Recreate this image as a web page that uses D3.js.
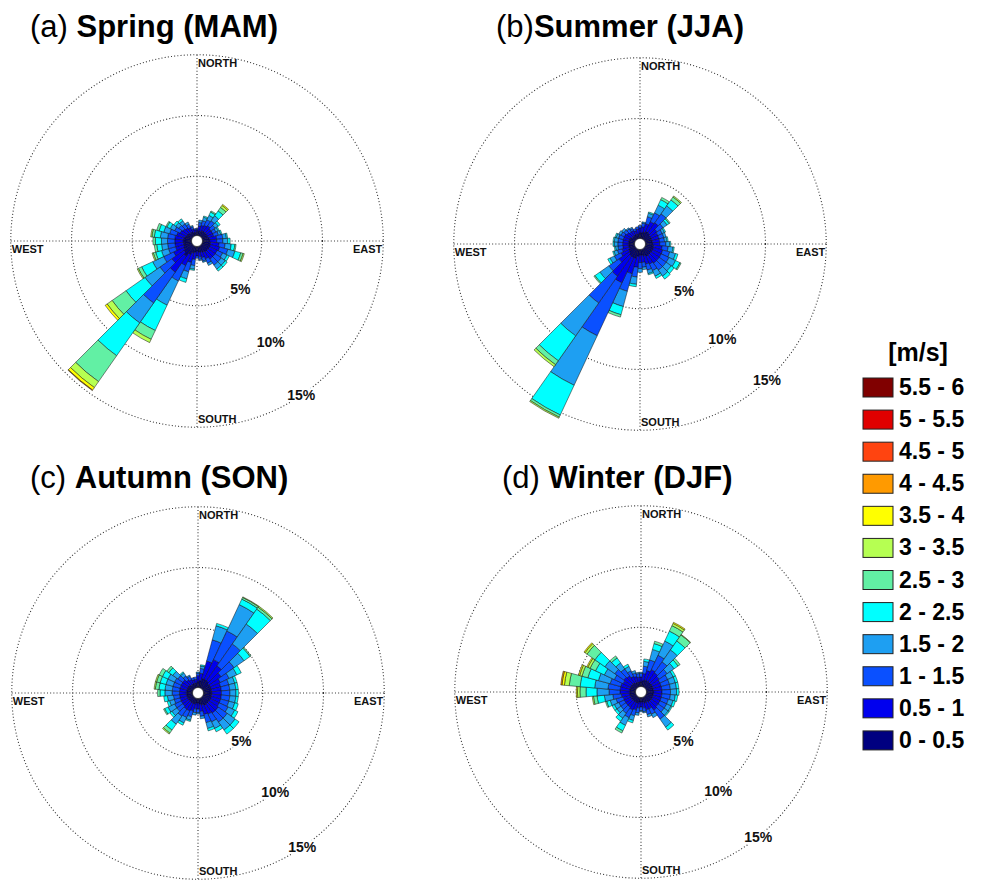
<!DOCTYPE html>
<html>
<head>
<meta charset="utf-8">
<script src="https://cdn.jsdelivr.net/npm/d3@7"></script>
<style>
  body { margin: 0; background: #fff; }
  svg { display: block; font-family: Arial, "Liberation Sans", sans-serif; }
</style>
</head>
<body>
<div id="chart"></div>
<script>
// direction sectors (degrees from north, clockwise)
var directions = [0, 10, 20, 30, 40, 50, 60, 70, 80, 90, 100, 110, 120, 130, 140, 150, 160, 170,
                  180, 190, 200, 210, 220, 230, 240, 250, 260, 270, 280, 290, 300, 310, 320, 330, 340, 350];

// wind speed classes [m/s] and their colours
var speedBins = ["0 - 0.5", "0.5 - 1", "1 - 1.5", "1.5 - 2", "2 - 2.5", "2.5 - 3",
                 "3 - 3.5", "3.5 - 4", "4 - 4.5", "4.5 - 5", "5 - 5.5", "5.5 - 6"];
var binColors = ["#000080", "#0000ee", "#0a50ff", "#1e9ff2", "#00ffff", "#62f0a4",
                 "#b6ff52", "#ffff00", "#ff9a00", "#ff4410", "#e00000", "#800000"];

var pctTicks = [5, 10, 15];
var compass = ["NORTH", "EAST", "SOUTH", "WEST"];

// frequency (%) per speed class, one row per direction sector
var springFreq = [
  [0.4,0.2,0.1], [0.5,0.4,0.3,0.2], [0.5,0.5,0.4,0.3,0.1], [0.6,0.5,0.5,0.4,0.3,0.1],
  [0.6,0.6,0.5,0.5,0.5,0.35,0.2,0.1], [0.6,0.5,0.4,0.3,0.2], [0.6,0.5,0.3,0.2,0.1], [0.6,0.5,0.4,0.2,0.1],
  [0.7,0.6,0.5,0.3,0.1], [0.7,0.6,0.5,0.4,0.2], [0.8,0.7,0.5,0.5,0.3,0.1], [0.8,0.8,0.7,0.6,0.5,0.2,0.1],
  [0.8,0.7,0.5,0.4,0.2], [0.8,0.7,0.6,0.4,0.2], [0.8,0.7,0.6,0.4,0.2], [0.7,0.6,0.4,0.2],
  [0.6,0.5,0.3,0.1], [0.6,0.4,0.2,0.1], [0.5,0.4,0.2], [0.6,0.6,0.5,0.3,0.1],
  [0.7,0.8,0.8,0.6,0.3], [0.9,1.0,1.4,2.2,2.3,0.8,0.3], [1.2,1.6,3.1,2.0,3.3,2.6,0.6,0.25,0.05], [1.0,1.2,1.2,1.5,1.9,1.4,0.5,0.2],
  [0.9,0.9,0.9,1.0,1.0,0.3,0.1], [0.8,0.7,0.6,0.6,0.5,0.2,0.1], [0.8,0.7,0.6,0.5,0.4,0.2], [0.8,0.7,0.6,0.5,0.5,0.2],
  [0.8,0.7,0.6,0.6,0.5,0.2,0.1], [0.7,0.7,0.6,0.5,0.4,0.2], [0.6,0.6,0.5,0.4,0.3,0.1], [0.6,0.5,0.4,0.3,0.2],
  [0.5,0.5,0.4,0.3,0.2], [0.5,0.4,0.3,0.2], [0.4,0.3,0.2,0.1], [0.4,0.2,0.1]
];
var summerFreq = [
  [0.6,0.4,0.2], [0.6,0.5,0.3,0.1], [0.7,0.7,0.6,0.3,0.1], [0.8,0.9,0.8,0.7,0.5,0.2],
  [0.8,1.0,0.9,0.8,0.6,0.3,0.1], [0.7,0.7,0.6,0.4,0.2,0.1], [0.7,0.6,0.4,0.2,0.1], [0.7,0.6,0.4,0.2],
  [0.7,0.6,0.4,0.2,0.1], [0.7,0.6,0.5,0.3,0.1], [0.8,0.7,0.5,0.4,0.1], [0.8,0.8,0.6,0.5,0.2],
  [0.8,0.8,0.7,0.6,0.4,0.1], [0.8,0.8,0.7,0.5,0.3], [0.8,0.8,0.7,0.6,0.3], [0.8,0.7,0.6,0.5,0.2],
  [0.7,0.7,0.5,0.3,0.1], [0.6,0.6,0.4,0.2], [0.6,0.6,0.5,0.3], [0.7,0.9,0.8,0.6,0.2],
  [0.9,1.3,1.5,1.3,0.7,0.2], [0.9,2.3,4.8,4.5,2.7,0.2,0.1], [0.9,2.0,2.7,3.3,2.5,0.4,0.2], [0.8,1.0,1.0,0.9,0.5,0.1],
  [0.7,0.7,0.6,0.4,0.2], [0.6,0.6,0.4,0.3,0.1], [0.6,0.5,0.4,0.2,0.1], [0.6,0.5,0.4,0.3,0.1],
  [0.6,0.5,0.4,0.3,0.1], [0.6,0.5,0.4,0.2,0.1], [0.6,0.5,0.3,0.2], [0.5,0.5,0.3,0.2],
  [0.5,0.4,0.3,0.1], [0.5,0.4,0.2,0.1], [0.5,0.3,0.2], [0.5,0.4,0.2]
];
var autumnFreq = [
  [0.6,0.5,0.2,0.1], [0.7,0.6,0.4,0.2,0.1], [0.9,1.5,1.8,1.2,0.2], [0.9,1.8,2.6,2.4,0.5,0.15,0.05],
  [0.9,1.5,2.2,2.0,1.5,0.2,0.1], [0.8,1.2,1.3,1.0,0.6,0.1], [0.8,0.9,0.8,0.7,0.4], [0.8,0.8,0.7,0.5,0.2],
  [0.8,0.8,0.7,0.5,0.2], [0.8,0.8,0.7,0.5,0.2], [0.8,0.8,0.7,0.5,0.2], [0.8,0.8,0.7,0.5,0.3],
  [0.8,0.8,0.8,0.6,0.3], [0.8,0.9,0.9,0.8,0.4], [0.8,0.9,0.9,0.8,0.4], [0.8,0.8,0.7,0.6,0.3],
  [0.7,0.8,0.7,0.5,0.2], [0.6,0.6,0.4,0.2], [0.5,0.5,0.3,0.1], [0.5,0.5,0.3,0.2],
  [0.6,0.6,0.5,0.3,0.1], [0.6,0.7,0.6,0.5,0.2], [0.6,0.7,0.7,0.8,0.6,0.3,0.1], [0.6,0.6,0.6,0.5,0.2],
  [0.6,0.6,0.6,0.6,0.3,0.1], [0.6,0.6,0.5,0.4,0.2], [0.6,0.6,0.5,0.5,0.3], [0.6,0.6,0.6,0.6,0.4,0.2],
  [0.6,0.6,0.6,0.6,0.5,0.3,0.1], [0.6,0.6,0.6,0.6,0.5,0.3,0.1], [0.6,0.6,0.6,0.6,0.5,0.3], [0.6,0.6,0.5,0.5,0.4,0.2],
  [0.5,0.5,0.4,0.3,0.1], [0.5,0.4,0.3,0.1], [0.5,0.3,0.2], [0.5,0.3,0.2]
];
var winterFreq = [
  [0.5,0.4,0.3,0.1], [0.6,0.6,0.6,0.4,0.2], [0.7,0.8,0.9,0.9,0.5,0.2], [0.7,1.0,1.3,1.3,0.9,0.5,0.2,0.1],
  [0.7,0.9,1.1,1.2,0.9,0.6,0.05], [0.7,0.8,0.8,0.7,0.4,0.2], [0.7,0.7,0.7,0.5,0.2], [0.7,0.7,0.7,0.5,0.2],
  [0.7,0.7,0.7,0.5,0.2], [0.7,0.7,0.7,0.5,0.2], [0.7,0.7,0.7,0.4,0.2], [0.7,0.7,0.6,0.4,0.2],
  [0.7,0.7,0.6,0.4,0.1], [0.7,0.7,0.6,0.4,0.1], [0.7,0.8,0.9,0.8,0.3], [0.6,0.6,0.5,0.3],
  [0.6,0.6,0.4,0.2], [0.5,0.5,0.3,0.1], [0.5,0.4,0.3,0.1], [0.5,0.5,0.4,0.2],
  [0.6,0.6,0.5,0.4,0.2], [0.6,0.7,0.7,0.7,0.5,0.2], [0.6,0.6,0.6,0.5,0.3], [0.6,0.6,0.5,0.4,0.2],
  [0.6,0.6,0.5,0.4,0.2], [0.6,0.6,0.6,0.5,0.3,0.1], [0.6,0.7,0.7,0.7,0.6,0.3,0.1], [0.6,0.8,0.9,1.0,0.9,0.5,0.2,0.1],
  [0.6,0.8,1.0,1.1,1.2,0.9,0.4,0.2,0.1], [0.6,0.8,0.9,1.0,0.9,0.5,0.2,0.1], [0.6,0.7,0.8,0.9,0.8,0.5,0.2,0.1], [0.6,0.8,0.9,1.0,1.0,0.8,0.2,0.1],
  [0.6,0.7,0.7,0.6,0.5,0.2], [0.5,0.6,0.5,0.4,0.2], [0.5,0.5,0.3,0.2], [0.5,0.4,0.3,0.1]
];

var width = 981;
var height = 881;

var svg = d3.select("#chart")
    .append("svg")
    .attr("width", width)
    .attr("height", height);

svg.append("rect").attr("width", width).attr("height", height).attr("fill", "#fff");

// radius for a percentage (small hole in the middle)
var rScale = d3.scaleLinear().domain([0, 15]).range([4, 186.25]);
var angle = d3.scaleLinear().domain([0, 360]).range([0, 2 * Math.PI]);
var arc = d3.arc();
var outerR = rScale(15);

// panel placement; tb = bearing (deg) where each % label sits on its ring
var panels = [
  { tag: "(a) ", name: "Spring (MAM)", freq: springFreq, cx: 197, cy: 241, tx: 30, ty: 37, tb: [138, 144, 146] },
  { tag: "(b)",  name: "Summer (JJA)", freq: summerFreq, cx: 640, cy: 244, tx: 496, ty: 37, tb: [137, 139, 137] },
  { tag: "(c) ", name: "Autumn (SON)", freq: autumnFreq, cx: 198, cy: 693, tx: 30, ty: 488, tb: [138, 142, 146] },
  { tag: "(d) ", name: "Winter (DJF)", freq: winterFreq, cx: 641, cy: 692, tx: 502, ty: 488, tb: [139, 142, 141] }
];

panels.forEach(function(p) {
    // title
    var title = svg.append("text")
        .attr("x", p.tx)
        .attr("y", p.ty)
        .attr("font-size", 31)
        .attr("fill", "#000");
    title.append("tspan").text(p.tag);
    title.append("tspan").attr("font-weight", "bold").text(p.name);

    var g = svg.append("g").attr("transform", "translate(" + p.cx + "," + p.cy + ")");

    // dotted grid
    g.selectAll("circle.ring")
        .data(pctTicks)
        .enter()
        .append("circle")
        .attr("class", "ring")
        .attr("r", function(d) { return rScale(d); })
        .attr("fill", "none")
        .attr("stroke", "#333")
        .attr("stroke-width", 1.1)
        .attr("stroke-dasharray", "1,2.2");

    g.append("line")
        .attr("x1", -outerR).attr("x2", outerR).attr("y1", 0).attr("y2", 0)
        .attr("stroke", "#333").attr("stroke-width", 1.1).attr("stroke-dasharray", "1,2.2");
    g.append("line")
        .attr("x1", 0).attr("x2", 0).attr("y1", -outerR).attr("y2", outerR)
        .attr("stroke", "#333").attr("stroke-width", 1.1).attr("stroke-dasharray", "1,2.2");

    // stacked sectors
    var segs = [];
    p.freq.forEach(function(row, i) {
        var cum = 0;
        row.forEach(function(v, j) {
            segs.push({ dir: directions[i], bin: j, lo: cum, hi: cum + v });
            cum += v;
        });
    });

    g.selectAll("path.seg")
        .data(segs)
        .enter()
        .append("path")
        .attr("class", "seg")
        .attr("d", function(d) {
            return arc({
                innerRadius: rScale(d.lo),
                outerRadius: rScale(d.hi),
                startAngle: angle(d.dir - 5),
                endAngle: angle(d.dir + 5)
            });
        })
        .attr("fill", function(d) { return binColors[d.bin]; })
        .attr("stroke", "#111")
        .attr("stroke-width", 0.5)
        .attr("stroke-linejoin", "round");

    g.append("circle").attr("r", 5.5).attr("fill", "#fff").attr("stroke", "#111").attr("stroke-width", 0.6);

    // compass words
    var cw = g.append("g").attr("font-size", 11).attr("font-weight", "bold").attr("fill", "#111");
    cw.append("text").attr("x", 1).attr("y", -outerR + 12).text(compass[0]);
    cw.append("text").attr("x", outerR - 1).attr("y", 12).attr("text-anchor", "end").text(compass[1]);
    cw.append("text").attr("x", 1).attr("y", outerR - 4).text(compass[2]);
    cw.append("text").attr("x", -outerR + 1).attr("y", 12).text(compass[3]);

    // % labels on the rings
    g.selectAll("text.pct")
        .data(pctTicks)
        .enter()
        .append("text")
        .attr("class", "pct")
        .attr("x", function(d, i) { return Math.sin(p.tb[i] * Math.PI / 180) * rScale(d); })
        .attr("y", function(d, i) { return -Math.cos(p.tb[i] * Math.PI / 180) * rScale(d); })
        .attr("dy", "0.35em")
        .attr("text-anchor", "middle")
        .attr("font-size", 14)
        .attr("font-weight", "bold")
        .attr("fill", "#111")
        .attr("stroke", "#fff")
        .attr("stroke-width", 4)
        .attr("paint-order", "stroke")
        .text(function(d) { return d + "%"; });
});

// legend
var legend = svg.append("g").attr("transform", "translate(863,0)");

legend.append("text")
    .attr("x", 55)
    .attr("y", 361)
    .attr("text-anchor", "middle")
    .attr("font-size", 25)
    .attr("font-weight", "bold")
    .text("[m/s]");

var rows = speedBins.map(function(s, i) { return { label: s, color: binColors[i] }; }).reverse();

var rowY = d3.scaleBand().domain(d3.range(rows.length)).range([378, 763]);

var item = legend.selectAll("g.item")
    .data(rows)
    .enter()
    .append("g")
    .attr("class", "item")
    .attr("transform", function(d, i) { return "translate(0," + rowY(i) + ")"; });

item.append("rect")
    .attr("width", 30)
    .attr("height", 19)
    .attr("fill", function(d) { return d.color; })
    .attr("stroke", "#222")
    .attr("stroke-width", 1);

item.append("text")
    .attr("x", 36)
    .attr("y", 17)
    .attr("font-size", 23)
    .attr("font-weight", "bold")
    .text(function(d) { return d.label; });
</script>
</body>
</html>
